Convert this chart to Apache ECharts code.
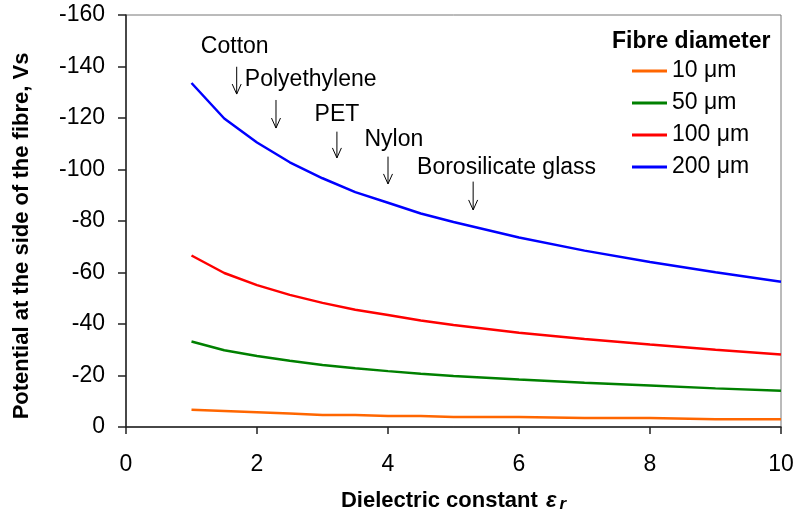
<!DOCTYPE html>
<html>
<head>
<meta charset="utf-8">
<script src="https://cdn.jsdelivr.net/npm/echarts@6/dist/echarts.min.js"></script>
<style>html,body{margin:0;padding:0;background:#fff}#c{width:798px;height:513px}</style>
</head>
<body>
<div id="c"></div>
<script>
// Dielectric constant values (x)
const eps = [1, 1.5, 2, 2.5, 3, 3.5, 4, 4.5, 5, 6, 7, 8, 9, 10];
// Potential at the side of the fibre (V) per fibre diameter
const v10  = [-6.7, -6.2, -5.7, -5.2, -4.7, -4.7, -4.3, -4.3, -3.9, -3.9, -3.5, -3.5, -3.0, -3.0];
const v50  = [-33.2, -29.8, -27.6, -25.7, -24.1, -22.8, -21.7, -20.7, -19.8, -18.4, -17.2, -16.1, -15.0, -14.1];
const v100 = [-66.6, -59.8, -55.1, -51.3, -48.2, -45.5, -43.5, -41.4, -39.6, -36.6, -34.2, -32.0, -30.0, -28.2];
const v200 = [-133.6, -119.8, -110.5, -102.8, -96.6, -91.2, -87.1, -82.9, -79.6, -73.6, -68.5, -64.1, -60.1, -56.4];
const seriesNames = ['10 μm', '50 μm', '100 μm', '200 μm'];

// Material annotations (data coordinates)
const annotLabels = ['Cotton', 'Polyethylene', 'PET', 'Nylon', 'Borosilicate glass'];
const annotLabelX = [1.66, 2.82, 3.22, 4.09, 5.81];
const annotLabelY = [-147.7, -134.8, -121.2, -111.4, -100.6];
const annotArrowX = [1.69, 2.29, 3.22, 4.0, 5.30];
const annotArrowTop = [-139.9, -127.0, -114.7, -105.0, -95.3];
const annotArrowBottom = [-129.3, -116.1, -104.5, -94.4, -84.3];

const FONT = '"Liberation Sans", Arial, sans-serif';
const colors = ['#FF6600', '#008000', '#FF0000', '#0000FF'];
const allValues = [v10, v50, v100, v200];

const chart = echarts.init(document.getElementById('c'), null, {renderer: 'canvas'});

const lineSeries = allValues.map((vals, k) => ({
  name: seriesNames[k],
  type: 'line',
  symbol: 'none',
  smooth: false,
  data: eps.map((x, i) => [x, vals[i]]),
  lineStyle: {color: colors[k], width: 2.5},
  itemStyle: {color: colors[k]},
  z: 3
}));

const annotSeries = {
  type: 'custom',
  silent: true,
  z: 4,
  encode: {x: [0, 2], y: [1, 3, 4]},
  data: annotLabels.map((_, i) => [annotLabelX[i], annotLabelY[i], annotArrowX[i], annotArrowTop[i], annotArrowBottom[i]]),
  renderItem: function (params, api) {
    const i = params.dataIndex;
    const lp = api.coord([api.value(0), api.value(1)]);
    const top = api.coord([api.value(2), api.value(3)]);
    const bot = api.coord([api.value(2), api.value(4)]);
    return {
      type: 'group',
      children: [
        {type: 'text', style: {text: annotLabels[i], x: lp[0], y: lp[1], align: 'center', verticalAlign: 'middle', font: '23px ' + FONT, fill: '#000'}},
        {type: 'line', shape: {x1: top[0], y1: top[1], x2: bot[0], y2: bot[1]}, style: {stroke: '#000', lineWidth: 1}},
        {type: 'polyline', shape: {points: [[bot[0] - 4.5, bot[1] - 10], [bot[0], bot[1]], [bot[0] + 4.5, bot[1] - 10]]}, style: {stroke: '#000', lineWidth: 1, fill: null}}
      ]
    };
  }
};

const option = {
  animation: false,
  backgroundColor: '#fff',
  title: {
    text: 'Fibre diameter',
    left: 612, top: 30, padding: 0,
    textStyle: {fontFamily: FONT, fontSize: 23, fontWeight: 'bold', color: '#000'}
  },
  legend: {
    data: seriesNames,
    orient: 'vertical',
    left: 632, top: 59.5, padding: 0,
    itemWidth: 35, itemHeight: 3, itemGap: 9,
    icon: 'rect',
    textStyle: {fontFamily: FONT, fontSize: 23, color: '#000'}
  },
  grid: {left: 126, right: 17, top: 15, bottom: 86, containLabel: false, outerBoundsMode: 'none', show: true, borderColor: '#777', borderWidth: 1, backgroundColor: 'transparent'},
  xAxis: {
    type: 'value', min: 0, max: 10, interval: 2,
    name: 'Dielectric constant {e|ε}{r|r}',
    nameLocation: 'middle', nameGap: 61,
    nameTextStyle: {
      fontFamily: FONT, fontSize: 22, fontWeight: 'bold', color: '#000',
      rich: {
        e: {fontFamily: FONT, fontSize: 22, fontWeight: 'bold', fontStyle: 'italic', color: '#000', padding: [0, 0, 0, 2]},
        r: {fontFamily: FONT, fontSize: 17, fontWeight: 'bold', fontStyle: 'italic', color: '#000', padding: [8, 0, 0, 3]}
      }
    },
    axisLine: {show: true, lineStyle: {color: '#222', width: 1.5}},
    axisTick: {show: true, length: 7, lineStyle: {color: '#222', width: 1.5}},
    axisLabel: {margin: 26, fontFamily: FONT, fontSize: 23, color: '#000'},
    splitLine: {show: false}
  },
  yAxis: {
    type: 'value', min: -160, max: 0, interval: 20, inverse: true,
    name: 'Potential at the side of the fibre, Vs',
    nameLocation: 'middle', nameGap: 93,
    nameTextStyle: {fontFamily: FONT, fontSize: 22, fontWeight: 'bold', color: '#000', padding: [0, 30, 0, 0]},
    axisLine: {show: true, lineStyle: {color: '#222', width: 1.5}},
    axisTick: {show: true, length: 8, lineStyle: {color: '#222', width: 1.5}},
    axisLabel: {margin: 21, fontFamily: FONT, fontSize: 23, color: '#000'},
    splitLine: {show: false}
  },
  series: lineSeries.concat([annotSeries])
};

chart.setOption(option);
</script>
</body>
</html>
